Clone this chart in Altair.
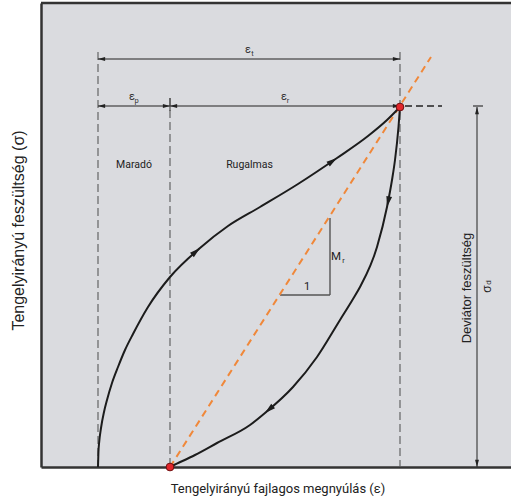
import math

import altair as alt
import numpy as np
import pandas as pd

# ---------------------------------------------------------------------------
# Data (arbitrary strain / stress units)
# ---------------------------------------------------------------------------
# Loading branch of the cycle
load_strain = [57, 57.4, 58.2, 60, 63, 66, 71, 77, 84, 92, 107, 129, 159, 187, 219, 257, 296, 327, 346, 359]
load_stress = [0, 14, 25, 39, 55, 67, 84, 100, 117, 133, 160, 190, 219, 241, 260, 283, 309, 331, 347, 360]

# Unloading branch of the cycle
unload_strain = [129, 131, 154, 176, 209, 224, 252, 276, 299, 312, 319, 336, 346, 351, 354, 357.5, 359]
unload_stress = [0, 1, 12, 24, 42, 54, 80, 110, 147, 168, 180, 220, 260, 287, 307, 340, 360]

# Characteristic strains and stresses
eps_start = 57         # start of loading
eps_perm = 129         # permanent strain after unloading
eps_peak = 359         # strain at peak load
sigma_peak = 360       # deviator stress (peak)
eps_total_level = 408  # height of the total-strain dimension line
guide_top = 415        # top of the outer guide lines
guide_top_mid = 369    # top of the middle guide line

# Resilient modulus secant line and its slope triangle
secant_x = [129, 390]
secant_y = [0, 410]
tri_x = [239, 289]
tri_y = [172, 249]

# Direction arrows on the curves (strain positions)
load_arrow_at = [159, 296]
unload_arrow_at = [346, 224]

# Deviator stress dimension
sigma_dim_x = 436
sigma_cap = [432, 442]
peak_dash_end = 401

X_DOMAIN = [0, 470]
Y_DOMAIN = [0, 464]
W, H = 470, 464

X_TITLE = "Tengelyirányú fajlagos megnyúlás (ε)"
Y_TITLE = "Tengelyirányú feszültség (σ)"

NARROW = "Roboto"
REGULAR = "Liberation Sans"
INK = "#1c1c1c"

# ---------------------------------------------------------------------------
# Shared scales / axes
# ---------------------------------------------------------------------------
xs = alt.Scale(domain=X_DOMAIN, nice=False, zero=False)
ys = alt.Scale(domain=Y_DOMAIN, nice=False, zero=False)

x_axis = alt.Axis(
    title=X_TITLE, labels=False, ticks=False, grid=False,
    domainColor="#333333", domainWidth=2.5,
    titleFont=NARROW, titleFontSize=13, titleFontWeight="normal", titleColor="#222222",
    titleX=236.5, titleY=21, titleAlign="center", titleBaseline="middle",
)
y_axis = alt.Axis(
    title=Y_TITLE, labels=False, ticks=False, grid=False,
    domainColor="#333333", domainWidth=2.5,
    titleFont=REGULAR, titleFontSize=16, titleFontWeight="normal", titleColor="#222222",
    titleAngle=270, titleX=-23, titleY=227, titleAlign="center", titleBaseline="middle",
)


def X(field="x"):
    return alt.X(f"{field}:Q", scale=xs, axis=x_axis)


def Y(field="y"):
    return alt.Y(f"{field}:Q", scale=ys, axis=y_axis)


# ---------------------------------------------------------------------------
# Arrowhead helpers
# ---------------------------------------------------------------------------
ARROW = "M0,0L0.6,2.2L-0.6,2.2Z"   # tip at origin, pointing up


def curve_arrows(xs_pts, ys_pts, at, forward=True):
    rows = []
    kx = W / (X_DOMAIN[1] - X_DOMAIN[0])
    ky = H / (Y_DOMAIN[1] - Y_DOMAIN[0])
    for a in at:
        y0 = float(np.interp(a, xs_pts, ys_pts))
        d = 2.0
        dy = (np.interp(a + d, xs_pts, ys_pts) - np.interp(a - d, xs_pts, ys_pts)) * ky
        dx = 2 * d * kx
        if not forward:
            dx, dy = -dx, -dy
        ang = math.degrees(math.atan2(dx, dy)) % 360
        rows.append({"x": a, "y": y0, "angle": ang})
    return pd.DataFrame(rows)


arrow_df = pd.concat([
    curve_arrows(load_strain, load_stress, load_arrow_at, forward=True),
    curve_arrows(unload_strain, unload_stress, unload_arrow_at, forward=False),
])

# Dimension-line arrowheads (left = 270, right = 90, up = 0, down = 180)
dim_heads = pd.DataFrame({
    "x": [eps_start, eps_peak, eps_start, eps_perm, eps_perm, eps_peak, sigma_dim_x, sigma_dim_x],
    "y": [eps_total_level, eps_total_level, sigma_peak + 1, sigma_peak + 1,
          sigma_peak + 1, sigma_peak + 1, sigma_peak, 0],
    "angle": [270, 90, 270, 90, 270, 90, 0, 180],
})

# ---------------------------------------------------------------------------
# Layers
# ---------------------------------------------------------------------------
top_border = alt.Chart(pd.DataFrame({"k": [0]})).mark_rule(
    color="#333333", strokeWidth=2.5
).encode(x=alt.value(0), x2=alt.value(W), y=alt.value(0))

guides = alt.Chart(pd.DataFrame({
    "x": [eps_start, eps_perm, eps_peak],
    "y": [guide_top, guide_top_mid, guide_top],
    "y2": [0, 0, 0],
})).mark_rule(color="#5a5a5a", strokeWidth=1.1, strokeDash=[8, 4]).encode(
    x=X(), y=Y(), y2="y2:Q"
)

peak_dash = alt.Chart(pd.DataFrame({
    "x": [eps_peak + 5], "x2": [peak_dash_end], "y": [sigma_peak + 1]
})).mark_rule(color="#222222", strokeWidth=1.4, strokeDash=[7, 4]).encode(
    x=X(), x2="x2:Q", y=Y()
)

dims = alt.Chart(pd.DataFrame({
    "x": [eps_start, eps_start, eps_perm],
    "x2": [eps_peak, eps_perm, eps_peak],
    "y": [eps_total_level, sigma_peak + 1, sigma_peak + 1],
})).mark_rule(color="#222222", strokeWidth=1.2).encode(x=X(), x2="x2:Q", y=Y())

perm_tick = alt.Chart(pd.DataFrame({
    "x": [eps_perm], "y": [guide_top_mid], "y2": [sigma_peak - 4]
})).mark_rule(color="#444444", strokeWidth=1.1).encode(x=X(), y=Y(), y2="y2:Q")

sigma_dim = alt.Chart(pd.DataFrame({
    "x": [sigma_dim_x], "y": [sigma_peak], "y2": [0]
})).mark_rule(color="#333333", strokeWidth=1.1).encode(x=X(), y=Y(), y2="y2:Q")

sigma_capline = alt.Chart(pd.DataFrame({
    "x": [sigma_cap[0]], "x2": [sigma_cap[1]], "y": [sigma_peak + 1]
})).mark_rule(color="#333333", strokeWidth=1.2).encode(x=X(), x2="x2:Q", y=Y())

triangle = alt.Chart(pd.DataFrame({
    "x": [tri_x[0], tri_x[1]],
    "x2": [tri_x[1], tri_x[1]],
    "y": [tri_y[0], tri_y[0]],
    "y2": [tri_y[0], tri_y[1]],
})).mark_rule(color="#555555", strokeWidth=1.4).encode(
    x=X(), x2="x2:Q", y=Y(), y2="y2:Q"
)

secant = alt.Chart(pd.DataFrame({
    "x": [secant_x[0]], "x2": [secant_x[1]], "y": [secant_y[0]], "y2": [secant_y[1]]
})).mark_rule(color="#f0883a", strokeWidth=2, strokeDash=[7, 5]).encode(
    x=X(), x2="x2:Q", y=Y(), y2="y2:Q"
)

loading = alt.Chart(pd.DataFrame({"x": load_strain, "y": load_stress})).mark_line(
    color=INK, strokeWidth=2, interpolate="monotone"
).encode(x=X(), y=Y())

unloading = alt.Chart(pd.DataFrame({"x": unload_strain, "y": unload_stress})).mark_line(
    color=INK, strokeWidth=2, interpolate="monotone"
).encode(x=X(), y=Y())

curve_heads = alt.Chart(arrow_df).mark_point(
    shape=ARROW, filled=True, color=INK, size=95, opacity=1
).encode(x=X(), y=Y(), angle=alt.Angle("angle:Q", scale=None))

dim_arrowheads = alt.Chart(dim_heads).mark_point(
    shape=ARROW, filled=True, color="#222222", size=42, opacity=1
).encode(x=X(), y=Y(), angle=alt.Angle("angle:Q", scale=None))


def text_layer(labels, xs_, ys_, size, font=NARROW, color="#222222", angle=0):
    df = pd.DataFrame({"label": labels, "x": xs_, "y": ys_})
    return alt.Chart(df).mark_text(
        font=font, fontSize=size, color=color, angle=angle,
        align="center", baseline="middle",
    ).encode(x=X(), y=Y(), text="label:N")


region_text = text_layer(["Maradó", "Rugalmas"], [93, 208.5], [302, 302], 10.5)
eps_text = text_layer(["ε", "ε", "ε"], [207, 91, 243], [417, 370, 370], 11, color="#333333")
eps_sub = text_layer(["t", "p", "r"], [211.5, 95.5, 247], [413.5, 366.5, 366.5], 7.5, color="#333333")
one_text = text_layer(["1"], [266], [180], 11)
mr_text = text_layer(["M"], [295], [210], 11.5)
mr_sub = text_layer(["r"], [302.5], [206.5], 7.5)
dev_text = text_layer(["Deviátor feszültség"], [426], [179], 13, font=REGULAR, angle=270)
sig_text = text_layer(["σ"], [445.5], [178], 12, font=REGULAR, angle=270)
sig_sub = text_layer(["d"], [448], [184.5], 8, font=REGULAR, angle=270)

dots = alt.Chart(pd.DataFrame({
    "x": [eps_perm, eps_peak], "y": [0, sigma_peak]
})).mark_point(
    filled=True, fill="#e3262b", stroke="#6e0e0e", strokeWidth=1, size=60, opacity=1
).encode(x=X(), y=Y())

chart = alt.layer(
    top_border, guides, peak_dash, dims, perm_tick, sigma_dim, sigma_capline,
    triangle, secant, loading, unloading, curve_heads, dim_arrowheads,
    region_text, eps_text, eps_sub, one_text, mr_text, mr_sub,
    dev_text, sig_text, sig_sub, dots,
).properties(
    width=W, height=H,
    padding={"left": 41, "top": 3, "right": 0, "bottom": 30},
    autosize=alt.AutoSizeParams(type="none"),
    background="white",
).configure_view(
    fill="#dadbdf", strokeWidth=0,
)

chart.save("out.html", embed_options={"renderer": "svg", "actions": False})
